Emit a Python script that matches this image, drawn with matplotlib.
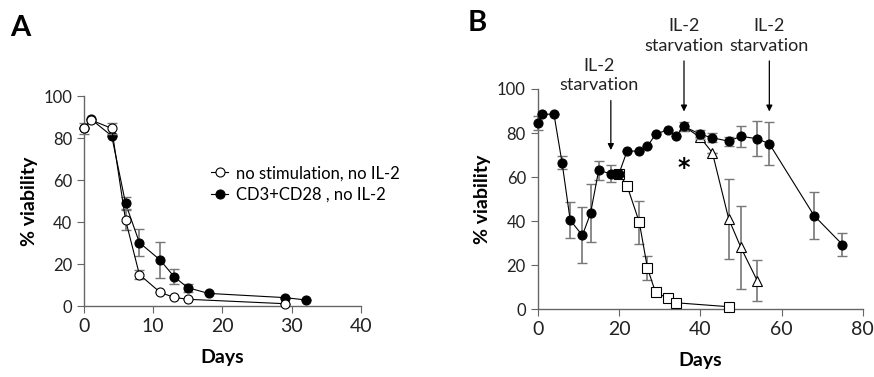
import numpy as np
import matplotlib.pyplot as plt

plt.rcParams['font.family'] = ['Lato', 'DejaVu Sans']

# Panel A data
a_open_x = [0, 1, 4, 6, 8, 11, 13, 15, 29]
a_open_y = [84.6, 88.6, 84.6, 41, 15, 6.5, 4.1, 3.2, 1.1]
a_open_err = [2.5, 0, 2.5, 5, 2, 0, 0, 0, 0]

a_fill_x = [0, 1, 4, 6, 8, 11, 13, 15, 18, 29, 32]
a_fill_y = [85, 89, 81, 48.9, 30.2, 21.9, 14, 8.7, 6, 4, 2.9]
a_fill_err = [0, 0, 0, 3, 6.5, 8.5, 3.5, 2, 0, 0, 0]

# Panel B data
b_fill_x = [0, 1, 4, 6, 8, 11, 13, 15, 18, 19, 20, 22, 25, 27, 29, 32, 34, 36,
            40, 43, 47, 50, 54, 57, 68, 75]
b_fill_y = [84.5, 88.5, 88.6, 66.5, 40.4, 33.5, 43.5, 63, 61.5, 61.5, 61.5, 71.8,
            71.8, 74, 79.4, 81.5, 78.6, 83, 79.4, 77.8, 76.3, 78.5, 77.4, 75.1,
            42.5, 29.3]
b_fill_err = [3, 0, 0, 3, 8.3, 12.7, 13.2, 4.5, 3.8, 0, 0, 0, 0, 0, 0, 0, 0, 2,
              2, 2, 2, 4.8, 8, 9.8, 10.5, 5.3]

b_sq_x = [20, 22, 25, 27, 29, 32, 34, 47]
b_sq_y = [61.5, 56, 39.5, 18.7, 7.6, 5, 2.9, 1.1]
b_sq_err = [0, 0, 9.8, 5.5, 1.5, 0, 0, 0]

b_tri_x = [36, 40, 43, 47, 50, 54]
b_tri_y = [83, 78, 71, 41, 28, 13]
b_tri_err = [0, 0, 0, 18, 19, 9.3]

arrow_x = [18, 36, 57]
arrow_tip = [71, 88.5, 88.5]
arrow_start = [96, 114, 114]
arrow_text_y = [98, 116, 116]

fig = plt.figure(figsize=(8.74, 3.77), dpi=100)
axA = fig.add_axes([0.0961, 0.1883, 0.3169, 0.557])
axB = fig.add_axes([0.6152, 0.180, 0.372, 0.584])

ecol = '#777777'


def style(ax, xmax, xstep):
    for s in ['top', 'right']:
        ax.spines[s].set_visible(False)
    for s in ['left', 'bottom']:
        ax.spines[s].set_color('#666666')
        ax.spines[s].set_linewidth(1)
    ax.set_ylim(0, 100)
    ax.set_xlim(0, xmax)
    ax.set_xticks(np.arange(0, xmax + 1, xstep))
    ax.set_yticks([0, 20, 40, 60, 80, 100])
    ax.tick_params(axis='y', labelsize=12, length=5, color='#666666', colors='#222222')
    ax.tick_params(axis='x', labelsize=14, length=5, color='#666666', colors='#222222')
    ax.set_ylabel('% viability', fontsize=14, fontweight='bold', labelpad=4)
    ax.set_xlabel('Days', fontsize=14, fontweight='bold', labelpad=10)


def series(ax, x, y, err, marker, face, z, label=None, ms=6.5):
    ax.errorbar(x, y, yerr=err, fmt='none', ecolor=ecol, elinewidth=1.2,
                capsize=3.5, capthick=1, zorder=z - 1, clip_on=False)
    ax.plot(x, y, color='black', lw=0.8, marker=marker, ms=ms, mfc=face,
            mec='black', mew=0.8, zorder=z, clip_on=False, label=label)


# Panel A
series(axA, a_fill_x, a_fill_y, a_fill_err, 'o', 'black', 3, 'CD3+CD28 , no IL-2')
series(axA, a_open_x, a_open_y, a_open_err, 'o', 'white', 5, 'no stimulation, no IL-2')
style(axA, 40, 10)
h, l = axA.get_legend_handles_labels()
axA.legend(h[::-1], l[::-1], loc='upper left', bbox_to_anchor=(0.43, 0.71),
           frameon=False, fontsize=12, handlelength=1.0, handletextpad=0.5,
           borderpad=0, labelspacing=0.35, numpoints=1)

# Panel B
series(axB, b_sq_x, b_sq_y, b_sq_err, 's', 'white', 3)
series(axB, b_tri_x, b_tri_y, b_tri_err, '^', 'white', 4, ms=7.5)
series(axB, b_fill_x, b_fill_y, b_fill_err, 'o', 'black', 6)
style(axB, 80, 20)

for x, tip, ts, ty in zip(arrow_x, arrow_tip, arrow_start, arrow_text_y):
    axB.annotate('', xy=(x, tip), xytext=(x, ts),
                 arrowprops=dict(arrowstyle='-|>', color='black', lw=0.9,
                                 mutation_scale=9), annotation_clip=False)
    axB.text(x - (3 if x == 18 else 0), ty, 'IL-2\nstarvation', ha='center',
             va='bottom', fontsize=13, linespacing=1.25, color='#222222')

# significance mark
axB.text(36, 64, '*', ha='center', va='center', fontsize=17, fontweight='bold',
         family='DejaVu Sans')

fig.text(0.023, 0.925, 'A', fontsize=21, fontweight='bold', ha='center', va='center')
fig.text(0.546, 0.94, 'B', fontsize=21, fontweight='bold', ha='center', va='center')

fig.savefig('out.png', dpi=100)
